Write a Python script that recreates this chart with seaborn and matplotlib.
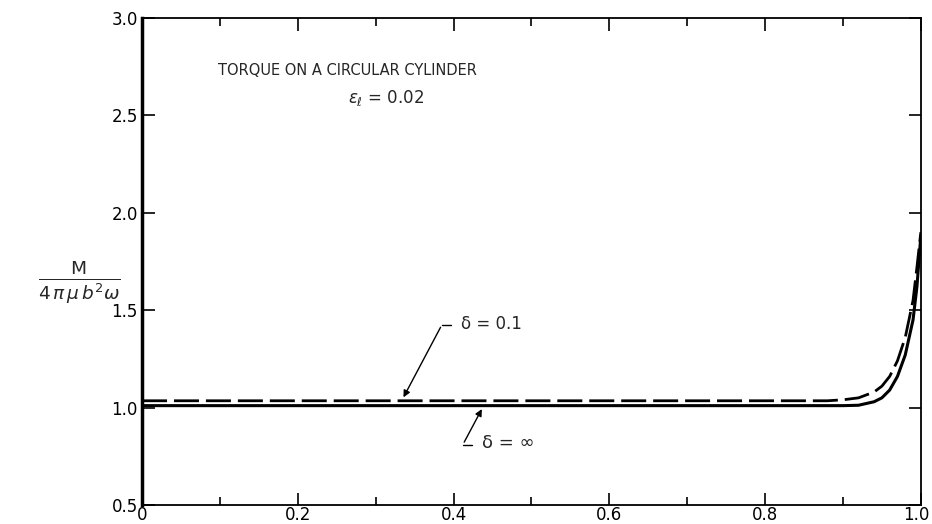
import numpy as np
import pandas as pd
import matplotlib.pyplot as plt
import matplotlib.transforms as mtransforms
import seaborn as sns

# values
x_vals = [0.0, 0.1, 0.2, 0.3, 0.4, 0.5, 0.6, 0.7, 0.8, 0.88, 0.9, 0.92, 0.94, 0.95, 0.96, 0.97, 0.98, 0.99, 0.995, 1.0]
m_inf = [1.01, 1.01, 1.01, 1.01, 1.01, 1.01, 1.01, 1.01, 1.01, 1.01, 1.01, 1.012, 1.03, 1.05, 1.09, 1.16, 1.27, 1.45, 1.62, 1.88]
m_01 = [1.035, 1.035, 1.035, 1.035, 1.035, 1.035, 1.035, 1.035, 1.035, 1.035, 1.04, 1.05, 1.08, 1.11, 1.16, 1.24, 1.36, 1.55, 1.72, 1.90]

x_ticks = [0, 0.2, 0.4, 0.6, 0.8, 1.0]
x_labels = ["0", "0.2", "0.4", "0.6", "0.8", "1.0"]
y_ticks = [0.5, 1.0, 1.5, 2.0, 2.5, 3.0]

df = pd.DataFrame({"x": x_vals + x_vals,
                   "M": m_inf + m_01,
                   "delta": ["inf"] * len(x_vals) + ["0.1"] * len(x_vals)})

sns.set_style("ticks")
plt.rcParams["font.family"] = ["DejaVu Sans"]

fig = plt.figure(figsize=(9.32, 5.24), dpi=100)
ax = fig.add_axes([0.1524, 0.0363, 0.8356, 0.9293])

sns.lineplot(data=df[df.delta == "inf"], x="x", y="M", color="black", linewidth=2.2, ax=ax)
sns.lineplot(data=df[df.delta == "0.1"], x="x", y="M", color="black", linewidth=2.0,
             linestyle=(0, (9, 2.5)), ax=ax)

ax.set_xlim(0, 1.0)
ax.set_ylim(0.5, 3.0)
ax.set_xticks(x_ticks)
ax.set_xticklabels(x_labels)
ax.set_xticks(np.arange(0.1, 1.0, 0.2), minor=True)
ax.set_yticks(y_ticks)
ax.set_xlabel("")
ax.set_ylabel("")
ax.tick_params(axis="both", which="both", direction="in", top=True, right=True,
               labelsize=12, pad=3, color="black", labelcolor="black")
ax.tick_params(axis="x", which="major", labelsize=12, pad=0.5)
ax.tick_params(axis="both", which="major", length=9, width=1.2)
ax.tick_params(axis="x", which="minor", length=6, width=1.2)
for side in ["top", "right", "bottom"]:
    ax.spines[side].set_linewidth(1.3)
ax.spines["left"].set_linewidth(2.5)
for s in ax.spines.values():
    s.set_color("black")

# nudge the last x label so it stays inside the figure
last = ax.get_xticklabels()[-1]
last.set_transform(last.get_transform() +
                   mtransforms.ScaledTranslation(-0.05, 0, fig.dpi_scale_trans))

ax.text(0.098, 2.73, "TORQUE ON A CIRCULAR CYLINDER", fontsize=10.5, va="center")
ax.text(0.265, 2.59, r"$\epsilon_{\ell}$ = 0.02", fontsize=12, va="center")

ax.annotate("", xy=(0.334, 1.04), xytext=(0.385, 1.425),
            arrowprops=dict(arrowstyle="-|>", color="black", lw=1.0, mutation_scale=10))
ax.plot([0.385, 0.397], [1.425, 1.425], color="black", lw=1.0)
ax.text(0.41, 1.43, "δ = 0.1", fontsize=12, va="center")

ax.annotate("", xy=(0.438, 1.005), xytext=(0.412, 0.81),
            arrowprops=dict(arrowstyle="-|>", color="black", lw=1.0, mutation_scale=10))
ax.plot([0.412, 0.424], [0.81, 0.81], color="black", lw=1.0)
ax.text(0.436, 0.82, "δ = ∞", fontsize=13, va="center")

fig.text(0.085, 0.462, r"$\frac{\mathrm{M}}{4\,\pi\,\mu\, b^2\omega}$", fontsize=19,
         ha="center", va="center")

fig.savefig("out.png", dpi=100, facecolor="white")
